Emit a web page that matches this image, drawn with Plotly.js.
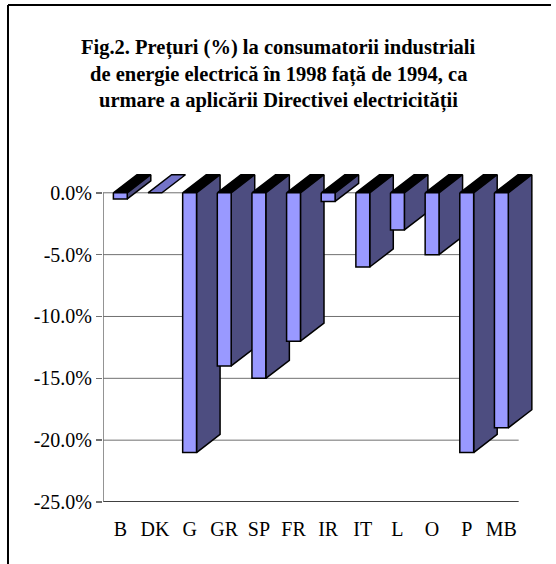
<!DOCTYPE html>
<html>
<head>
<meta charset="utf-8">
<script src="https://cdn.plot.ly/plotly-3.0.1.min.js"></script>
<style>html,body{margin:0;padding:0;background:#fff;}#chart{width:556px;height:564px;}</style>
</head>
<body>
<div id="chart"></div>
<script>
// Data
var categories = ["B", "DK", "G", "GR", "SP", "FR", "IR", "IT", "L", "O", "P", "MB"];
var values = [-0.5, 0, -21, -14, -15, -12, -0.7, -6, -3, -5, -21, -19];
var yTickVals = [0, -5, -10, -15, -20, -25];
var yTickText = ["0.0%", "-5.0%", "-10.0%", "-15.0%", "-20.0%", "-25.0%"];
var titleLines = ["Fig.2. Prețuri (%) la consumatorii industriali",
                  "de energie electrică în 1998 față de 1994, ca",
                  "urmare a aplicării Directivei electricității"];

// Style
var SERIF = "Liberation Serif";
var FRONT = "#9999FF", SIDE = "#4D4D80", TOP = "#000000", TOPZERO = "#7373C8";
var W = 0.4;      // front width (category units)
var DX = 0.68;    // depth offset x (category units)
var DY = 1.46;    // depth offset y (% units)

var xIdx = categories.map(function (c, i) { return i; });
var traces = [];
function poly(xs, ys, fill) {
  traces.push({
    type: "scatter", mode: "lines", x: xs.concat([xs[0]]), y: ys.concat([ys[0]]),
    fill: "toself", fillcolor: fill, line: {color: "#000", width: 1.5},
    hoverinfo: "skip", showlegend: false
  });
}
xIdx.forEach(function (xi, i) {
  var v = values[i];
  var l = xi - W / 2, r = xi + W / 2;
  poly([l, r, r + DX, l + DX], [0, 0, DY, DY], v === 0 ? TOPZERO : TOP);
  if (v !== 0) {
    poly([r, r + DX, r + DX, r], [0, DY, v + DY, v], SIDE);
    poly([l, r, r, l], [0, 0, v, v], FRONT);
  }
});

var shapes = [];
yTickVals.forEach(function (t) {
  shapes.push({type: "line", layer: "below", xref: "x", yref: "y",
    x0: -0.5, x1: categories.length - 0.5, y0: t, y1: t,
    line: {color: t === -25 ? "#000" : "#707070", width: t === -25 ? 1.5 : 1}});
});
shapes.push({type: "line", layer: "below", xref: "x", yref: "y",
  x0: -0.5, x1: -0.5, y0: Math.min.apply(null, yTickVals), y1: 0,
  line: {color: "#707070", width: 1.5}});
shapes.push({type: "line", xref: "paper", yref: "paper", x0: -0.2194, x1: -0.2194, y0: -0.2, y1: 1.5106,
  line: {color: "#000", width: 2}});
shapes.push({type: "line", xref: "paper", yref: "paper", x0: -0.2194, x1: 1.0346, y0: 1.5106, y1: 1.5106,
  line: {color: "#000", width: 2}});

var titleY = [1.380, 1.2979, 1.2188];
var annotations = titleLines.map(function (t, i) {
  return {text: "<b>" + t + "</b>", xref: "paper", yref: "paper",
    x: (278 - 103) / 433, y: titleY[i], xanchor: "center", yanchor: "middle",
    showarrow: false, font: {family: SERIF, size: 20.5, color: "#000"}};
});

var layout = {
  width: 556, height: 564,
  margin: {l: 103, r: 20, t: 173, b: 62},
  paper_bgcolor: "#fff", plot_bgcolor: "#fff",
  font: {family: SERIF, color: "#000", size: 20},
  xaxis: {
    range: [-0.5, 12], showgrid: false, zeroline: false, showline: false,
    tickmode: "array", tickvals: xIdx, ticktext: categories,
    ticks: "outside", ticklen: 9, tickcolor: "rgba(0,0,0,0)",
    tickfont: {family: SERIF, size: 20, color: "#000"}, fixedrange: true
  },
  yaxis: {
    range: [-25, 1.6], showgrid: false, zeroline: false, showline: false,
    tickmode: "array", tickvals: yTickVals, ticktext: yTickText,
    ticks: "outside", ticklen: 6, tickcolor: "#707070", tickwidth: 1.5,
    tickfont: {family: SERIF, size: 20, color: "#000"}, fixedrange: true
  },
  shapes: shapes,
  annotations: annotations,
  showlegend: false
};
Plotly.newPlot("chart", traces, layout, {displayModeBar: false, staticPlot: true});
</script>
</body>
</html>
